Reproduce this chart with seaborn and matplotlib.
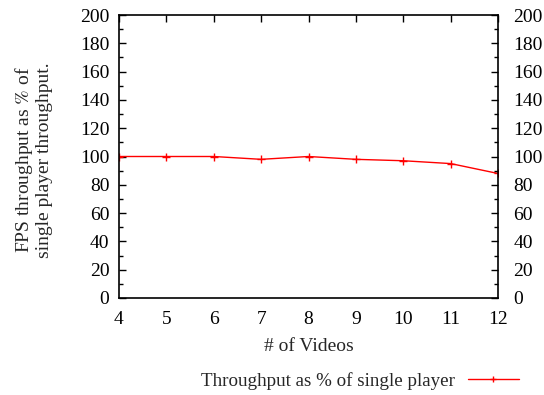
import matplotlib
matplotlib.use("Agg")
import matplotlib.pyplot as plt
import seaborn as sns
import pandas as pd
from matplotlib.ticker import MultipleLocator
from matplotlib.lines import Line2D

videos = [4, 5, 6, 7, 8, 9, 10, 11, 12]
throughput_pct = [100, 100, 100, 98, 100, 98, 97, 95, 88]
series_label = "Throughput as % of single player"

df = pd.DataFrame({"videos": videos, "pct": throughput_pct})

sns.set_style("white")
plt.rcParams["font.family"] = ["Liberation Serif", "DejaVu Serif"]
plt.rcParams["mathtext.fontset"] = "stix"
FS = 14

fig = plt.figure(figsize=(5.44, 3.95), dpi=100)
ax = fig.add_axes([119 / 544, 1 - 298 / 395, (498 - 119) / 544, (298 - 15) / 395])

sns.lineplot(data=df, x="videos", y="pct", ax=ax, color="#ff0000", linewidth=1.0,
             marker="+", markersize=6, markeredgewidth=1.0, markeredgecolor="#ff0000",
             legend=False)

ax.set_xlim(4, 12)
ax.set_ylim(0, 200)
ax.xaxis.set_major_locator(MultipleLocator(1))
ax.yaxis.set_major_locator(MultipleLocator(20))
ax.yaxis.set_minor_locator(MultipleLocator(10))
ax.tick_params(axis="both", which="both", direction="in", top=True, right=True,
               labelright=False, colors="black", labelsize=FS)
ax.tick_params(axis="y", which="major", pad=7)
ax.tick_params(axis="x", which="major", pad=9)
ax.tick_params(which="major", length=5, width=1)
ax.tick_params(which="minor", length=3, width=1)
for s in ax.spines.values():
    s.set_color("black")
    s.set_linewidth(1.2)

# right-hand value labels on a mirrored axis
ax2 = ax.twinx()
ax2.set_ylim(ax.get_ylim())
ax2.yaxis.set_major_locator(MultipleLocator(20))
ax2.yaxis.set_minor_locator(MultipleLocator(10))
ax2.tick_params(axis="y", which="both", direction="in", colors="black", labelsize=FS,
                left=False, right=True)
ax2.tick_params(which="major", length=5, width=1, pad=11)
ax2.tick_params(which="minor", length=3, width=1)
ax2.grid(False)
for s in ax2.spines.values():
    s.set_visible(False)

ax.set_xlabel("# of Videos", fontsize=FS)
ax.xaxis.set_label_coords(0.5, -0.14)
ax.set_ylabel("")
fig.text(33 / 544, 1 - 160 / 395, "FPS throughput as $\\%$ of\nsingle player throughput.",
         rotation=90, ha="center", va="center", fontsize=FS, linespacing=1.05)

handle = Line2D([], [], color="#ff0000", linewidth=1.0, marker="+", markersize=5,
                markeredgewidth=1.0)
fig.legend([handle], [series_label], loc="center right",
           bbox_to_anchor=(519 / 544, 1 - 381 / 395),
           frameon=False, fontsize=13.7, handlelength=2.7, markerfirst=False,
           handletextpad=0.65, borderaxespad=0, borderpad=0)

fig.savefig("out.png", dpi=100)
